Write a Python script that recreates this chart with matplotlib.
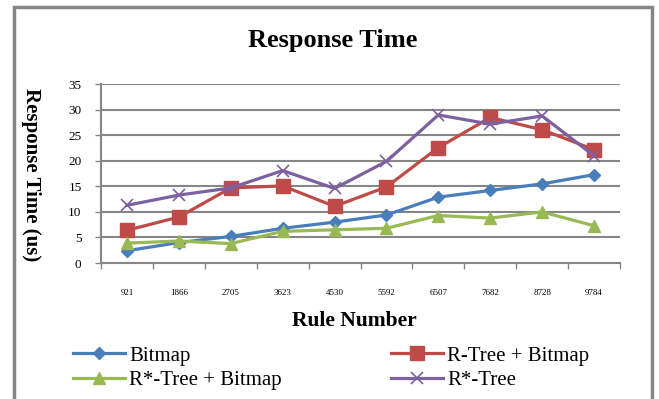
import matplotlib
matplotlib.use('Agg')
import matplotlib.pyplot as plt
from matplotlib.patches import Rectangle

# rule counts on the x axis
rules = ['921', '1866', '2705', '3623', '4530', '5592', '6507', '7682', '8728', '9784']

# response times (us)
bitmap = [2.4, 4.0, 5.2, 6.8, 8.0, 9.4, 12.9, 14.2, 15.5, 17.3]
rtree_bitmap = [6.4, 9.0, 14.7, 15.1, 11.1, 14.9, 22.6, 28.5, 26.1, 22.2]
rstar_bitmap = [3.9, 4.3, 3.8, 6.2, 6.5, 6.8, 9.3, 8.8, 10.0, 7.3]
rstar_tree = [11.3, 13.3, 14.7, 18.1, 14.6, 19.9, 29.0, 27.2, 28.8, 21.0]

serif = 'Liberation Serif'
grey = '#868686'

fig = plt.figure(figsize=(6.59, 3.99), dpi=100)
W, H = 659, 399

# grey frame around the whole chart
fig.patches.append(Rectangle((14 / W, -0.05), (652 - 14) / W, 1.05 - 7 / H,
                             transform=fig.transFigure, fill=False,
                             edgecolor=grey, linewidth=2.5))

ax = fig.add_axes([101 / W, (H - 263) / H, (620 - 101) / W, (263 - 84.3) / H])

x = list(range(len(rules)))
ax.plot(x, bitmap, color='#4A7EBB', lw=2.3, marker='D', ms=6, label='Bitmap')
ax.plot(x, rtree_bitmap, color='#BE4B48', lw=2.3, marker='s', ms=10, label='R-Tree + Bitmap')
ax.plot(x, rstar_bitmap, color='#98B954', lw=2.3, marker='^', ms=9, label='R*-Tree + Bitmap')
ax.plot(x, rstar_tree, color='#7D60A0', lw=2.3, marker='x', ms=9, mew=1.2, label='R*-Tree')

ax.set_xlim(-0.5, len(rules) - 0.5)
ax.set_ylim(0, 35)
ax.set_yticks(range(0, 36, 5))
ax.yaxis.grid(True, color=grey, lw=1.5)
ax.set_axisbelow(True)

ax.set_xticks(x)
ax.set_xticklabels(rules, fontsize=6.5, family=serif)
ax.set_xticks([i - 0.5 for i in range(len(rules) + 1)], minor=True)
ax.tick_params(axis='x', which='major', length=0, pad=19)
ax.tick_params(axis='x', which='minor', length=4, color=grey, width=1)
ax.tick_params(axis='y', length=4, color=grey, width=1, pad=10, labelsize=9.5)
for lab in ax.get_yticklabels():
    lab.set_family(serif)

for side in ['top', 'right']:
    ax.spines[side].set_visible(False)
for side in ['left', 'bottom']:
    ax.spines[side].set_color(grey)
    ax.spines[side].set_linewidth(1.5)

fig.text(333 / W, 1 - 40 / H, 'Response Time', ha='center', va='center',
         family=serif, fontweight='bold', fontsize=19)
fig.text(354 / W, 1 - 321 / H, 'Rule Number', ha='center', va='center',
         family=serif, fontweight='bold', fontsize=15.5)
fig.text(31 / W, 1 - 175 / H, 'Response Time (us)', ha='center', va='center',
         rotation=270, family=serif, fontweight='bold', fontsize=15)

# legend in two columns, like the original
handles, labels = ax.get_legend_handles_labels()
leg_kw = dict(frameon=False, prop={'family': serif, 'size': 15}, handlelength=2.5,
              handletextpad=0.2, labelspacing=0.25, borderpad=0, borderaxespad=0)
leg1 = fig.legend([handles[0], handles[2]], [labels[0], labels[2]],
                  loc='upper left', bbox_to_anchor=(73 / W, 1 - 346 / H), **leg_kw)
leg2 = fig.legend([handles[1], handles[3]], [labels[1], labels[3]],
                  loc='upper left', bbox_to_anchor=(391 / W, 1 - 346 / H), **leg_kw)

fig.savefig('out.png', dpi=100)
